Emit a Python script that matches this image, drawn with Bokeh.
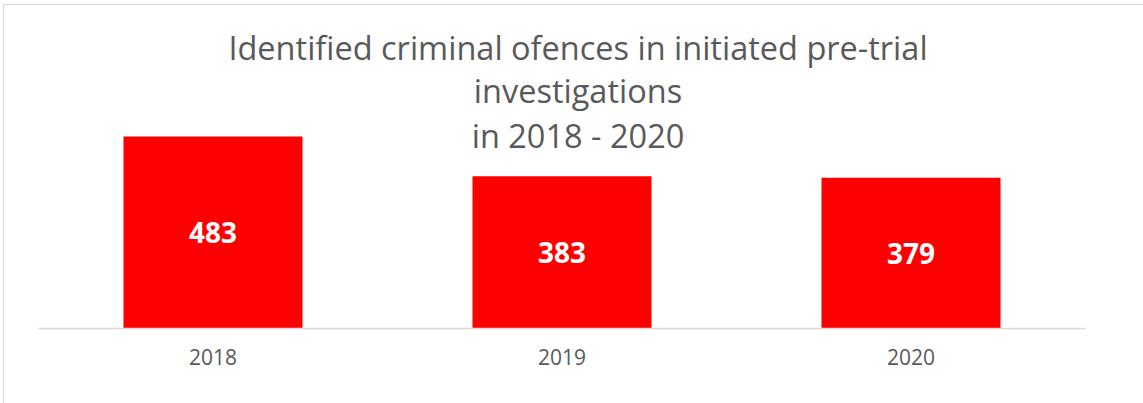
from bokeh.plotting import figure
from bokeh.models import ColumnDataSource, FactorRange, Range1d, LabelSet, Label
from bokeh.core.properties import value
from bokeh.embed import file_html
from bokeh.resources import INLINE

years = ["2018", "2019", "2020"]
values = [483, 383, 379]
title_lines = ["Identified criminal ofences in initiated pre-trial", "investigations", "in 2018 - 2020"]

src = ColumnDataSource(dict(x=years, top=values, mid=[v / 2 for v in values], label=[str(v) for v in values]))

p = figure(width=1139, height=398, x_range=FactorRange(factors=years, range_padding=0),
           y_range=Range1d(0, 800), output_backend="svg", toolbar_location=None,
           min_border_left=34, min_border_right=58, min_border_top=5, min_border_bottom=75)
p.margin = (5, 0, 0, 4)
p.styles = {"outline": "1.5px solid #d9d9d9"}
p.outline_line_color = None
p.background_fill_color = "white"
p.border_fill_color = "white"
p.xgrid.visible = False
p.ygrid.visible = False
p.yaxis.visible = False

p.vbar(x="x", top="top", width=0.513, source=src, fill_color="#ff0000", line_color=None)

p.add_layout(LabelSet(x="x", y="mid", text="label", source=src, text_align="center",
                      text_baseline="middle", text_color="white", text_font=value("Open Sans"),
                      text_font_style="bold", text_font_size="28px"))

ax = p.xaxis[0]
ax.axis_line_color = "#d9d9d9"
ax.axis_line_width = 1.5
ax.major_tick_line_color = None
ax.minor_tick_line_color = None
ax.major_label_text_color = "#595959"
ax.major_label_text_font = "Open Sans"
ax.major_label_text_font_size = "21px"
ax.major_label_standoff = 14

ys = [707, 599, 486]
for t, yy in zip(title_lines, ys):
    p.add_layout(Label(x=1.5, y=yy, text=t, x_offset=16, text_align="center",
                       text_baseline="alphabetic", text_color="#595959",
                       text_font="Open Sans", text_font_size="32.5px"))

open("out.html", "w").write(file_html(p, INLINE))
